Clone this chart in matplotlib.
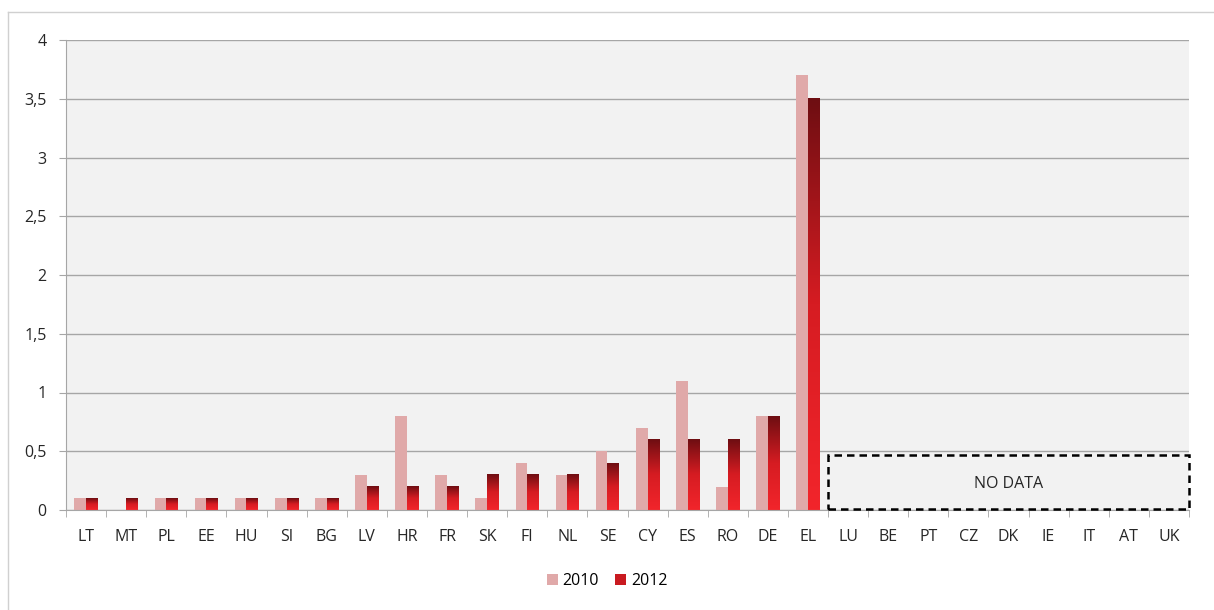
import numpy as np
import matplotlib
matplotlib.use('Agg')
import matplotlib.pyplot as plt
from matplotlib.colors import LinearSegmentedColormap
from matplotlib.patches import Rectangle, Patch
from matplotlib.lines import Line2D

countries = ['LT', 'MT', 'PL', 'EE', 'HU', 'SI', 'BG', 'LV', 'HR', 'FR',
             'SK', 'FI', 'NL', 'SE', 'CY', 'ES', 'RO', 'DE', 'EL',
             'LU', 'BE', 'PT', 'CZ', 'DK', 'IE', 'IT', 'AT', 'UK']
# None = no data
v2010 = [0.1, None, 0.1, 0.1, 0.1, 0.1, 0.1, 0.3, 0.8, 0.3,
         0.1, 0.4, 0.3, 0.5, 0.7, 1.1, 0.2, 0.8, 3.7]
v2012 = [0.1, 0.1, 0.1, 0.1, 0.1, 0.1, 0.1, 0.2, 0.2, 0.2,
         0.3, 0.3, 0.3, 0.4, 0.6, 0.6, 0.6, 0.8, 3.5]
series_labels = ['2010', '2012']
yticks = [0, 0.5, 1, 1.5, 2, 2.5, 3, 3.5, 4]

c2010 = '#e0a9a9'
grad = LinearSegmentedColormap.from_list('red_grad', ['#f2252b', '#d61c22', '#6e0e12'])
txt = '#262626'
fs = 11.5

plt.rcParams['font.family'] = ['Open Sans', 'DejaVu Sans']

fig = plt.figure(figsize=(12.14, 6.10), dpi=100)
ax = fig.add_axes([66 / 1214, 1 - 510 / 610, 1123 / 1214, 470 / 610])
ax.set_facecolor('#f2f2f2')

n = len(countries)
x = np.arange(n)
w = 0.29

for i, v in enumerate(v2010):
    if v:
        ax.bar(x[i] - w / 2, v, w, color=c2010, zorder=2)

# gradient bars for 2012
g = np.linspace(0, 1, 256).reshape(-1, 1)
for i, v in enumerate(v2012):
    if v:
        ax.imshow(g, cmap=grad, aspect='auto', origin='lower',
                  extent=[x[i], x[i] + w, 0, v], zorder=2)

ax.set_xlim(-0.5, n - 0.5)
ax.set_ylim(0, 4)

ax.set_yticks(yticks)
ax.set_yticklabels([('%g' % t).replace('.', ',') for t in yticks], fontsize=fs,
                   color=txt)
ax.yaxis.grid(True, color='#a6a6a6', linewidth=1.0, zorder=1)
ax.set_axisbelow(True)

ax.set_xticks(x)
ax.set_xticklabels(countries, fontsize=fs, color=txt)
ax.set_xticks(np.arange(-0.5, n, 1), minor=True)
ax.tick_params(axis='x', which='major', length=0, pad=14)
ax.tick_params(axis='x', which='minor', length=5, color='#a6a6a6', direction='out')
ax.tick_params(axis='y', length=5, color='#a6a6a6', pad=9)

for side in ['top', 'right']:
    ax.spines[side].set_visible(False)
for side in ['left', 'bottom']:
    ax.spines[side].set_color('#a6a6a6')

# no-data box
ax.add_patch(Rectangle((18.5, 0.005), n - 0.5 - 18.5 - 0.01, 0.465, fill=False,
                       edgecolor='black', linestyle=(0, (3, 2)), linewidth=1.8,
                       zorder=4, clip_on=False))
ax.text((18.5 + n - 0.5) / 2, 0.22, 'NO DATA', ha='center', va='center',
        fontsize=fs, color=txt)

handles = [Patch(facecolor=c2010), Patch(facecolor='#c91a20')]
fig.legend(handles, series_labels, loc='center', bbox_to_anchor=(0.5, 1 - 581 / 610),
           ncol=2, frameon=False, fontsize=fs, handlelength=0.7, handleheight=0.7,
           handletextpad=0.3, columnspacing=1.0)

# light border around the chart
fig.add_artist(Line2D([8 / 1214, 8 / 1214], [0, 1 - 12 / 610], color='#d0d0d0', linewidth=1))
fig.add_artist(Line2D([8 / 1214, 1], [1 - 12 / 610, 1 - 12 / 610], color='#d0d0d0', linewidth=1))

fig.savefig('out.png', dpi=100, facecolor='white')
